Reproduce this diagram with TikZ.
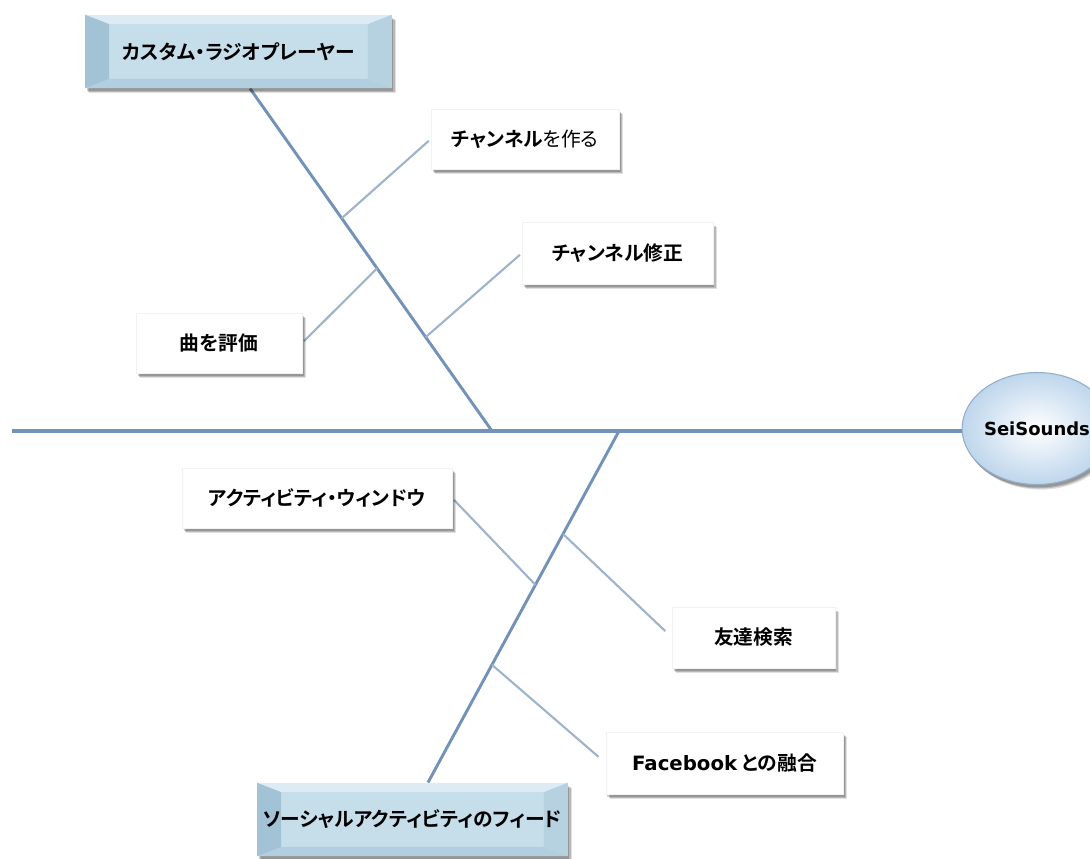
\documentclass[tikz,border=0pt]{standalone}
\usepackage{fontspec}
\setmainfont{DejaVu Sans}
\newfontfamily\jp{Noto Sans CJK JP}[BoldFont={Noto Sans CJK JP Bold},RawFeature=+palt]
\newfontfamily\lat{DejaVu Sans}
\usetikzlibrary{shadows,shapes.geometric,calc,backgrounds}
\definecolor{bone}{HTML}{7392B7}
\definecolor{subc}{HTML}{9EB4CD}
\definecolor{bevface}{HTML}{C6DEEA}
\definecolor{bevtop}{HTML}{DDECF4}
\definecolor{bevleft}{HTML}{A2C2D6}
\definecolor{bevright}{HTML}{B6D1E0}
\definecolor{bevbot}{HTML}{B2CFDF}
\definecolor{ellF}{HTML}{BED6EC}
\definecolor{ellB}{HTML}{93AECB}
\tikzset{
  softshadow/.style={
    drop shadow={shadow xshift=1.2pt,shadow yshift=-2.2pt,fill=black,opacity=0.18},
    drop shadow={shadow xshift=2pt,shadow yshift=-3pt,fill=black,opacity=0.18},
    drop shadow={shadow xshift=2.8pt,shadow yshift=-3.8pt,fill=black,opacity=0.12}},
  lbl/.style={font={\jp\bfseries\fontsize{14.8pt}{17pt}\selectfont},text=black,inner sep=0pt},
  card/.style={lbl,fill=white,draw=black!5,line width=0.3pt,softshadow},
  bevel/.style={lbl,fill=bevface,softshadow,
    path picture={
      \fill[bevtop] (path picture bounding box.north west) -- (path picture bounding box.north east)
        -- ([shift={(-18pt,-7pt)}]path picture bounding box.north east)
        -- ([shift={(18pt,-7pt)}]path picture bounding box.north west) -- cycle;
      \fill[bevbot] (path picture bounding box.south west) -- (path picture bounding box.south east)
        -- ([shift={(-18pt,7pt)}]path picture bounding box.south east)
        -- ([shift={(18pt,7pt)}]path picture bounding box.south west) -- cycle;
      \fill[bevleft] (path picture bounding box.north west)
        -- ([shift={(18pt,-7pt)}]path picture bounding box.north west)
        -- ([shift={(18pt,7pt)}]path picture bounding box.south west)
        -- (path picture bounding box.south west) -- cycle;
      \fill[bevright] (path picture bounding box.north east)
        -- ([shift={(-18pt,-7pt)}]path picture bounding box.north east)
        -- ([shift={(-18pt,7pt)}]path picture bounding box.south east)
        -- (path picture bounding box.south east) -- cycle;
    }},
  bonel/.style={draw=bone,line width=2.2pt},
  subl/.style={draw=subc,line width=1.6pt},
}
\begin{document}
\begin{tikzpicture}[x=0.75pt,y=-0.75pt]
\useasboundingbox (0,0) rectangle (1090,858);
% category boxes
\node[bevel,minimum width=230pt,minimum height=55pt] (top) at (238.5,51.5) {カスタム・ラジオプレーヤー};
\node[bevel,minimum width=233pt,minimum height=55pt] (bot) at (412.5,819.5) {ソーシャルアクティビティのフィード};
% effect
\node[ellipse,minimum width=97.5pt,minimum height=84pt,draw=ellB,line width=0.8pt,
      inner color=white,outer color=ellF,softshadow,
      font={\lat\bfseries\fontsize{13.5pt}{16pt}\selectfont},inner sep=0pt] (ss) at (1037,428.5) {SeiSounds};
% cause cards
\node[card,minimum width=141pt,minimum height=45pt] (c1) at (525,139) {チャンネル{\mdseries を作る}};
\node[card,minimum width=143pt,minimum height=46.5pt] (c2) at (617.5,253) {チャンネル修正};
\node[card,minimum width=124.5pt,minimum height=45pt] (c3) at (219,343) {曲を評価};
\node[card,minimum width=202.5pt,minimum height=45pt] (c4) at (317,498) {アクティビティ・ウィンドウ};
\node[card,minimum width=122pt,minimum height=46pt] (c5) at (753.5,637.5) {友達検索};
\node[card,minimum width=178pt,minimum height=46.5pt] (c6) at (724.5,763) {{\lat Facebook} との融合};
% skeleton
\coordinate (sp) at (12,431);
\coordinate (j1) at (492,431);
\coordinate (j2) at (619,431);
\coordinate (tb) at ([xshift=8.6pt]top.south);
\coordinate (bb) at ([xshift=11.6pt]bot.north);
\coordinate (t1) at ($(tb)!0.379!(j1)$);
\coordinate (t2) at ($(tb)!0.525!(j1)$);
\coordinate (t3) at ($(tb)!0.726!(j1)$);
\coordinate (a1) at ($(j2)!0.4375!(bb)$);
\coordinate (a2) at ($(j2)!0.293!(bb)$);
\coordinate (a3) at ($(j2)!0.665!(bb)$);
\begin{scope}[on background layer]
\draw[bonel,line width=2.4pt] (sp) -- (ss.west |- sp);
\draw[bonel] (tb) -- (j1);
\draw[bonel] (j2) -- (bb);
\draw[subl,shorten >=2pt] (t1) -- (c1.west);
\draw[subl,shorten >=2pt] (t2) -- (c3.east);
\draw[subl,shorten >=2pt] (t3) -- (c2.west);
\draw[subl,shorten >=2pt] (a1) -- (c4.east);
\draw[subl,shorten >=7pt] (a2) -- (c5.west);
\draw[subl,shorten >=7pt] (a3) -- (c6.west);
\end{scope}
\end{tikzpicture}
\end{document}
